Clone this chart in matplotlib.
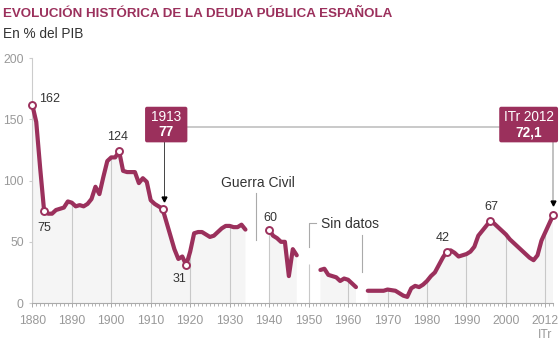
import numpy as np
import matplotlib.pyplot as plt
from matplotlib.patches import FancyBboxPatch

plt.rcParams['font.family'] = ['Liberation Sans', 'DejaVu Sans']

granate = '#9b305c'
gris_txt = '#333333'
gris_eje = '#999999'
gris_rejilla = '#c8c8c8'
relleno = '#f5f5f5'

# deuda pública en % del PIB, un valor por año (nan = sin datos)
anios = np.arange(1880, 2013)
deuda = np.array([
    162, 148, 110, 75, 73, 73, 76, 77, 78, 83,          # 1880
    82, 79, 80, 79, 81, 85, 95, 89, 103, 116,           # 1890
    119, 119, 124, 108, 107, 107, 107, 98, 102, 99,     # 1900
    84, 81, 79, 77, 66, 55, 44, 36, 38, 31,             # 1910
    42, 57, 58, 58, 56, 54, 55, 58, 61, 63,             # 1920
    63, 62, 62, 64, 60, np.nan, np.nan, np.nan, np.nan, np.nan,  # 1930
    60, 55, 53, 50, 50, 22, 44, 39, np.nan, np.nan,     # 1940
    np.nan, np.nan, np.nan, 27, 28, 23, 22, 21, 18, 20,  # 1950
    19, 16, 13, np.nan, np.nan, 10, 10, 10, 10, 10,     # 1960
    11, 10.5, 10, 8, 6, 5, 12, 14, 13, 15,              # 1970
    18, 22, 25, 31, 37, 42, 43, 41, 38, 39,             # 1980
    40, 42, 46, 55, 59, 63, 67, 65, 62, 59,             # 1990
    56, 52, 49, 46, 43, 40, 37, 35, 39, 51,             # 2000
    58, 65, 72.1,                                       # 2010
])

# puntos destacados con su etiqueta
hitos_anio = [1880, 1883, 1902, 1919, 1940, 1985, 1996]
hitos_texto = ['162', '75', '124', '31', '60', '42', '67']
hitos_pos = [(1881.7, 166.5, 'left'), (1883, 61, 'center'), (1901.5, 135.4, 'center'),
             (1917.2, 19.4, 'center'), (1940.2, 69.2, 'center'), (1984.1, 52.9, 'center'),
             (1996.3, 78.7, 'center')]

decadas = list(range(1880, 2001, 10)) + [2010]
etiquetas_x = [str(d) for d in range(1880, 2001, 10)] + ['2012\nITr']
alto_1950 = 32

fig = plt.figure(figsize=(5.6, 3.41), dpi=100)
ax = fig.add_axes([32.3 / 560, 38 / 341, 521 / 560, 244.7 / 341])
ax.set_xlim(1880, 2012)
ax.set_ylim(0, 200)

valido = ~np.isnan(deuda)
ax.fill_between(anios, np.where(valido, deuda, 0), 0, where=valido,
                color=relleno, lw=0, zorder=0)

# rejilla vertical solo bajo la curva
for d in decadas:
    alto = deuda[d - 1880] if not np.isnan(deuda[d - 1880]) else alto_1950
    ax.vlines(d, 0, alto, color=gris_rejilla, lw=0.8, zorder=1)

ax.plot(anios, deuda, color=granate, lw=3, solid_capstyle='round',
        solid_joinstyle='round', zorder=3, clip_on=False)

marcados = hitos_anio + [1913, 2012]
ax.plot(marcados, deuda[np.array(marcados) - 1880], 'o', ms=5, mfc='white',
        mec=granate, mew=1.4, zorder=4, clip_on=False)

for txt, (x, y, ha) in zip(hitos_texto, hitos_pos):
    ax.text(x, y, txt, ha=ha, va='center', fontsize=9, color=gris_txt)

# Guerra Civil y Sin datos
ax.text(1937.2, 97.8, 'Guerra Civil', ha='center', va='center', fontsize=10, color=gris_txt)
ax.plot([1936.6, 1936.6], [51.5, 89.5], color='#aaaaaa', lw=0.8)
ax.text(1953.1, 64.6, 'Sin datos', ha='left', va='center', fontsize=10, color=gris_txt)
ax.plot([1951.9, 1950.2, 1950.2], [65, 65, 46], color='#aaaaaa', lw=0.8)
ax.plot([1963.5, 1963.5], [25.4, 55.4], color='#aaaaaa', lw=0.8)

# cajas de 1913 y del primer trimestre de 2012
aspecto = 3.945 / 1.2235
y0, y1 = 131.3, 160.4
for x0, x1, linea1, linea2 in [(1908.57, 1919.29, '1913', '77'),
                               (1998.3, 2013.2, 'ITr 2012', '72,1')]:
    caja = FancyBboxPatch((x0, y0), x1 - x0, y1 - y0,
                          boxstyle='round,pad=0,rounding_size=0.5',
                          mutation_aspect=aspecto, fc=granate, ec='none',
                          zorder=5, clip_on=False)
    ax.add_patch(caja)
    xc = (x0 + x1) / 2
    ax.text(xc, 152.3, linea1, ha='center', va='center', fontsize=9.8,
            color='white', zorder=6)
    ax.text(xc, 139.5, linea2, ha='center', va='center', fontsize=9.8,
            color='white', fontweight='bold', zorder=6)

ax.plot([1919.29, 1998.3], [144.1, 144.1], color='#bbbbbb', lw=1.1, zorder=2)
ax.plot([1913.3, 1913.3], [y0, 85.6], color='#444444', lw=0.7, zorder=2)
ax.plot([1913.3], [85.0], 'v', ms=3.5, color='black', zorder=2)
ax.plot([2012, 2012], [y0, 82], color='#b0b0b0', lw=1.1, zorder=2, clip_on=False)
ax.plot([2012], [81.5], 'v', ms=3.5, color='black', zorder=2, clip_on=False)

# ejes
for lado in ['top', 'right']:
    ax.spines[lado].set_visible(False)
ax.spines['left'].set_color('#cccccc')
ax.spines['left'].set_linewidth(0.8)
ax.spines['left'].set_bounds(0, 200)
ax.spines['bottom'].set_color('#aaaaaa')
ax.spines['bottom'].set_linewidth(0.8)

ax.set_yticks([0, 50, 100, 150, 200])
ax.tick_params(axis='y', length=2.2, width=0.8, color='#cccccc',
               labelsize=8.8, labelcolor=gris_eje, pad=4)
ax.set_xticks(decadas)
ax.set_xticklabels(etiquetas_x, linespacing=1.25)
ax.set_xticks(range(1880, 2013), minor=True)
ax.tick_params(axis='x', which='major', length=3.2, width=0.7, color='#aaaaaa',
               labelsize=8.8, labelcolor=gris_eje, pad=5.5)
ax.tick_params(axis='x', which='minor', length=2, width=0.6, color='#aaaaaa')

fig.text(3 / 560, 1 - 17.3 / 341, 'EVOLUCIÓN HISTÓRICA DE LA DEUDA PÚBLICA ESPAÑOLA',
         fontsize=9.6, fontweight='bold', color=granate, va='baseline')
fig.text(3 / 560, 1 - 38 / 341, 'En % del PIB', fontsize=9.8, color=gris_txt,
         va='baseline')

fig.savefig('out.png', dpi=100)
